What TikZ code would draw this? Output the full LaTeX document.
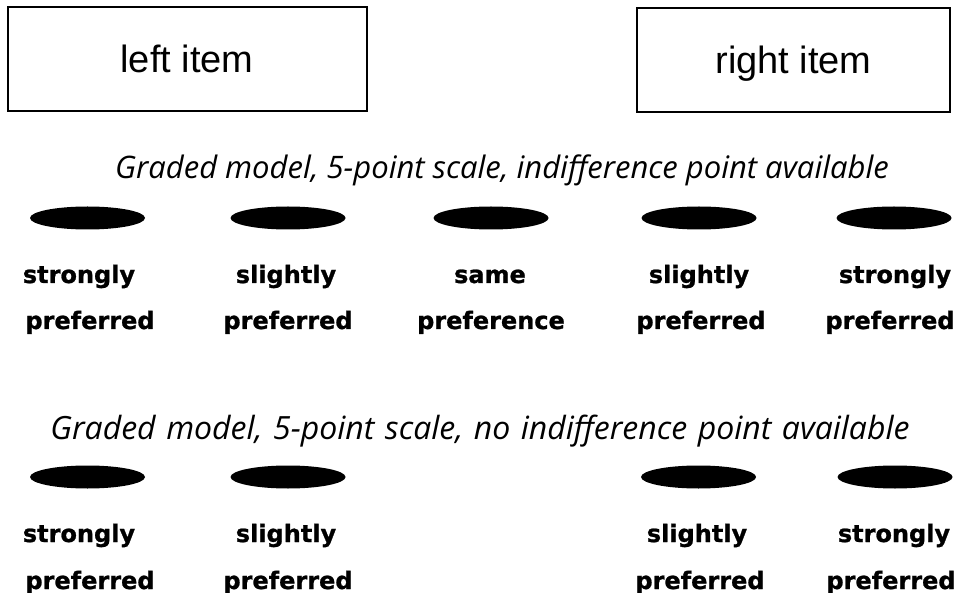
\documentclass[tikz,border=0pt]{standalone}
\usepackage{fontspec}
\setmainfont{Liberation Sans}
\newfontfamily\labfont[FakeBold=1]{DejaVu Sans Bold}
\newfontfamily\titfont{Open Sans}
\usetikzlibrary{shapes.geometric}
\begin{document}
\begin{tikzpicture}[x=1pt,y=-1pt,
  itembox/.style={draw=black,line width=2pt,minimum width=359pt,minimum height=104pt,inner sep=0pt,
    text height=27pt,text depth=0pt,font=\fontsize{38}{40}\selectfont},
  dot/.style={ellipse,fill=black,draw=none,minimum width=115pt,minimum height=23pt,inner sep=0pt},
  lab/.style={inner sep=0pt,anchor=base,font=\labfont\fontsize{24}{26}\selectfont},
  ttl/.style={inner sep=0pt,anchor=base,font=\titfont\itshape\fontsize{31}{33}\selectfont}]
\useasboundingbox (0,0) rectangle (955,593);
\node[itembox] (left) at (187,59.5) {left item};
\node[itembox,minimum width=313pt] (right) at (793.5,60.5) {right item};

\node[ttl] (t1) at (502,179) {Graded model, 5-point scale, indifference point available};

\node[dot] (a1) at (87.5,218) {};
\node[dot] (a2) at (288,218) {};
\node[dot] (a3) at (491,218) {};
\node[dot] (a4) at (699,218) {};
\node[dot] (a5) at (894,218) {};

\node[lab] (a1s) at (79,283) {strongly};
\node[lab] (a1p) at (90,329) {preferred};
\node[lab] (a2s) at (286,283) {slightly};
\node[lab] (a2p) at (288,329) {preferred};
\node[lab] (a3s) at (490,283) {same};
\node[lab] (a3p) at (491,329) {preference};
\node[lab] (a4s) at (699,283) {slightly};
\node[lab] (a4p) at (701,329) {preferred};
\node[lab] (a5s) at (895,283) {strongly};
\node[lab] (a5p) at (890,329) {preferred};

\node[ttl,font=\titfont\itshape\fontsize{32}{34}\selectfont] (t2) at (480,439) {\spaceskip=0.33em\relax Graded model, 5-point scale, no indifference point available};

\node[dot] (b1) at (87.5,477) {};
\node[dot] (b2) at (288,477) {};
\node[dot] (b4) at (698.5,477) {};
\node[dot] (b5) at (895,477) {};

\node[lab] (b1s) at (79,542) {strongly};
\node[lab] (b1p) at (90,589) {preferred};
\node[lab] (b2s) at (286,542) {slightly};
\node[lab] (b2p) at (288,589) {preferred};
\node[lab] (b4s) at (697,542) {slightly};
\node[lab] (b4p) at (700,589) {preferred};
\node[lab] (b5s) at (894,542) {strongly};
\node[lab] (b5p) at (891,589) {preferred};
\end{tikzpicture}
\end{document}
